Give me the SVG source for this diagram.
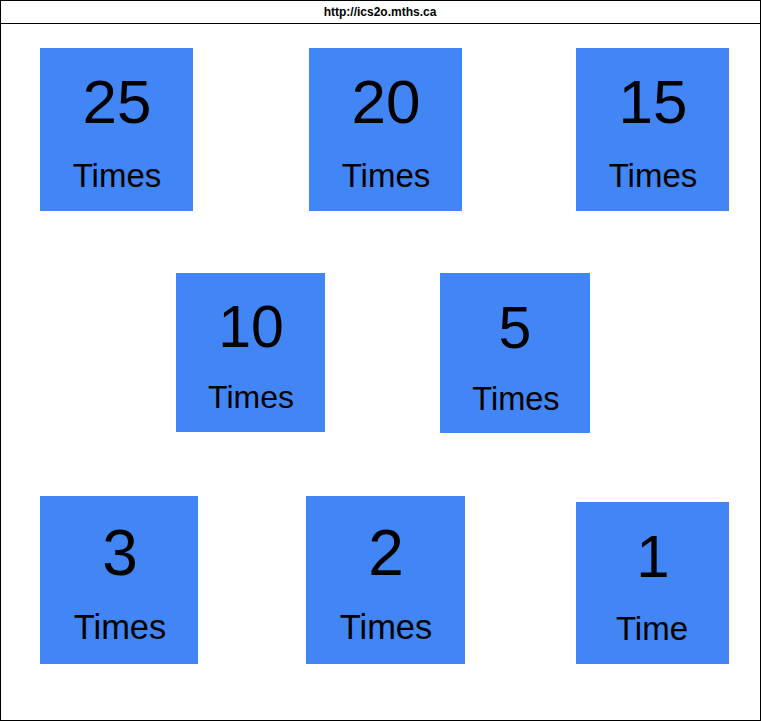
<svg xmlns="http://www.w3.org/2000/svg" width="761" height="721" viewBox="0 0 761 721">
<style>
.box{fill:#4285f4;}
.num{font-family:"Liberation Sans",Arial,sans-serif;font-size:62px;fill:#000;text-anchor:middle;}
.lbl{font-family:"Liberation Sans",Arial,sans-serif;font-size:33px;fill:#000;text-anchor:middle;}
.hdr{font-family:"Liberation Sans",Arial,sans-serif;font-size:12px;font-weight:bold;fill:#000;text-anchor:middle;}
</style>
<rect x="0" y="0" width="761" height="721" fill="#fff"/>
<rect x="0.5" y="0.5" width="760" height="720" fill="none" stroke="#000" stroke-width="1"/>
<line x1="0" y1="23.5" x2="761" y2="23.5" stroke="#000" stroke-width="1"/>
<text class="hdr" x="380" y="16">http://ics2o.mths.ca</text>
<g id="n25"><rect class="box" x="40" y="48" width="153" height="163"/><text class="num" x="117" y="123">25</text><text class="lbl" x="117" y="187">Times</text></g>
<g id="n20"><rect class="box" x="309" y="48" width="153" height="163"/><text class="num" x="386" y="123">20</text><text class="lbl" x="386" y="187">Times</text></g>
<g id="n15"><rect class="box" x="576" y="48" width="153" height="163"/><text class="num" x="653" y="123">15</text><text class="lbl" x="653" y="187">Times</text></g>
<g id="n10"><rect class="box" x="176" y="273" width="149" height="159"/><text class="num" x="251" y="347" style="font-size:59px">10</text><text class="lbl" x="251" y="408" style="font-size:32px">Times</text></g>
<g id="n5"><rect class="box" x="440" y="273" width="150" height="160"/><text class="num" x="515" y="348" style="font-size:59px">5</text><text class="lbl" x="516" y="410" style="font-size:32.5px">Times</text></g>
<g id="n3"><rect class="box" x="40" y="496" width="158" height="168"/><text class="num" x="120" y="575" style="font-size:64px">3</text><text class="lbl" x="120" y="639" style="font-size:34.5px">Times</text></g>
<g id="n2"><rect class="box" x="306" y="496" width="159" height="168"/><text class="num" x="386" y="575" style="font-size:64px">2</text><text class="lbl" x="386" y="639" style="font-size:34.5px">Times</text></g>
<g id="n1"><rect class="box" x="576" y="502" width="153" height="162"/><text class="num" x="653" y="577" style="font-size:60px">1</text><text class="lbl" x="652" y="640" style="font-size:33px">Time</text></g>
<g id="connectors"></g>
</svg>
